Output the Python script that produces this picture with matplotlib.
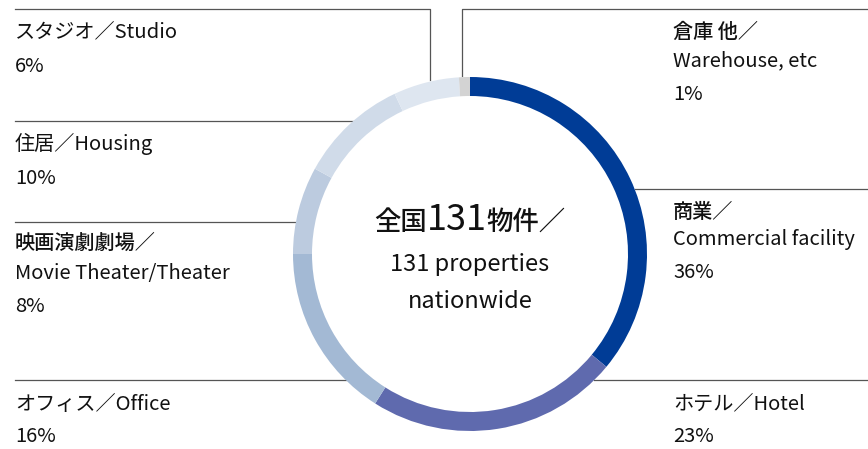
import numpy as np
import matplotlib.pyplot as plt
from matplotlib.transforms import IdentityTransform

plt.rcParams['font.family'] = ['Noto Sans CJK JP', 'DejaVu Sans']

# データ
categories_ja = ['商業', 'ホテル', 'オフィス', '映画演劇劇場', '住居', 'スタジオ', '倉庫 他']
categories_en = ['Commercial facility', 'Hotel', 'Office', 'Movie Theater/Theater',
                 'Housing', 'Studio', 'Warehouse, etc']
shares = [36, 23, 16, 8, 10, 6, 1]
colors = ['#003c96', '#5f6aae', '#a3b9d4', '#bccbdf', '#d0dbe9', '#dee6f0', '#d3d3d3']
total_count = 131

W, H = 868, 449
fig = plt.figure(figsize=(W / 100, H / 100), dpi=100)
ax = fig.add_axes([0, 0, 1, 1])

cx, cy = 470, H - 254
R, ring = 177, 19

ax.pie(shares, colors=colors, startangle=90, counterclock=False,
       center=(cx, cy), radius=R, wedgeprops=dict(width=ring, linewidth=0),
       frame=True)
ax.set_xlim(0, W)
ax.set_ylim(0, H)
ax.set_aspect('auto')
ax.axis('off')

line_kw = dict(color='#555555', lw=0.9, zorder=0)


def edge_x(y_top, side):
    dy = (H - y_top) - cy
    return cx + side * np.sqrt(max(R ** 2 - dy ** 2, 0))


# 引き出し線
ax.plot([15, 430, 430], [H - 9, H - 9, H - 80], **line_kw)
ax.plot([462, 462, W], [H - 76, H - 9, H - 9], **line_kw)
for y in [121, 222, 380]:
    ax.plot([15, edge_x(y, -1)], [H - y, H - y], **line_kw)
for y in [189, 380]:
    ax.plot([edge_x(y, 1), W], [H - y, H - y], **line_kw)

fs = 14.5
pct = [f'{s}%' for s in shares]

# (x, 各行の中心y, 行テキスト)
labels = [
    (673, [212, 240, 273], [categories_ja[0] + '／', categories_en[0], pct[0]]),
    (673, [404, 437], [categories_ja[1] + '／' + categories_en[1], pct[1]]),
    (15, [404, 437], [categories_ja[2] + '／' + categories_en[2], pct[2]]),
    (15, [243, 273, 306], [categories_ja[3] + '／', categories_en[3], pct[3]]),
    (15, [144, 179], [categories_ja[4] + '／' + categories_en[4], pct[4]]),
    (15, [32, 67], [categories_ja[5] + '／' + categories_en[5], pct[5]]),
    (673, [32, 61, 94], [categories_ja[6] + '／', categories_en[6], pct[6]]),
]
for x, ys, lines in labels:
    for y, s in zip(ys, lines):
        w = 'medium' if s.endswith('／') else 'normal'
        ax.text(x, H - y, s, fontsize=fs, ha='left', va='center', color='#111111',
                fontweight=w)

# 中央テキスト（サイズ混在）
renderer = fig.canvas.get_renderer()
parts = [('全国', 19, 'medium'), (str(total_count), 26, 'normal'), ('物件／', 19, 'medium')]
base_y = ax.transData.transform((0, H - 230))[1]
objs = []
x = 0
for s, size, wt in parts:
    t = ax.text(x, base_y, s, fontsize=size, ha='left', va='baseline', fontweight=wt,
                transform=IdentityTransform(), color='#111111')
    fig.canvas.draw()
    bb = t.get_window_extent(renderer)
    objs.append(t)
    x = bb.x1
width = x
x0 = ax.transData.transform((cx, 0))[0] - width / 2
for t in objs:
    px, py = t.get_position()
    t.set_position((px + x0, py))

ax.text(cx, H - 265, f'{total_count} properties', fontsize=17, ha='center', va='center',
        color='#111111')
ax.text(cx, H - 302, 'nationwide', fontsize=17, ha='center', va='center', color='#111111')

fig.savefig('out.png', dpi=100)
